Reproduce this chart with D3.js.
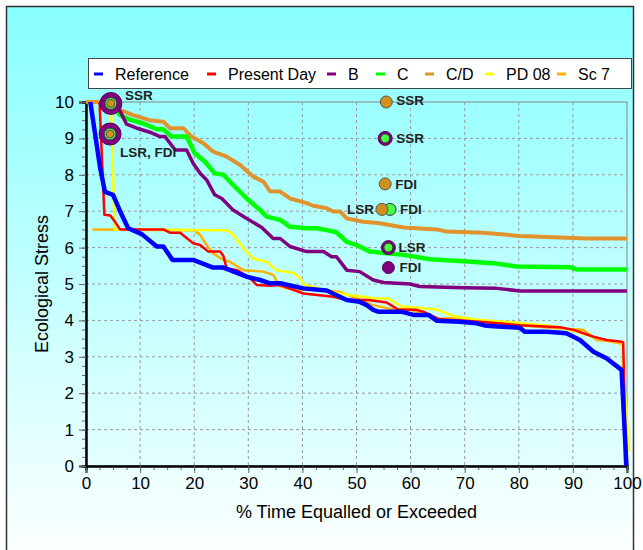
<!DOCTYPE html>
<html>
<head>
<meta charset="utf-8">
<script src="https://cdn.jsdelivr.net/npm/d3@7/dist/d3.min.js"></script>
<style>
  body { margin: 0; background: #fff; }
  svg text { font-family: "Liberation Sans", Arial, sans-serif; }
</style>
</head>
<body>
<svg id="chart" width="643" height="550"></svg>
<script>
// series names, in legend order
var seriesNames = ["Reference", "Present Day", "B", "C", "C/D", "PD 08", "Sc 7"];

// duration curves: [% time equalled or exceeded, ecological stress]
var reference = [[0.8,10],[2.6,8.2],[3.5,7.53],[5,7.45],[6.3,7.0],[7.8,6.53],[10.3,6.37],[13.1,6.03],[14.3,6.03],[16,5.66],[19.8,5.66],[23.5,5.45],[25.4,5.45],[29.7,5.2],[32.2,5.11],[34,5.02],[35.9,5.02],[40.2,4.88],[44.5,4.82],[48.2,4.56],[50.6,4.51],[51.9,4.42],[53.1,4.29],[54,4.24],[58.3,4.24],[60.5,4.15],[63.3,4.15],[64.8,3.99],[69.1,3.96],[72.2,3.92],[74,3.85],[80.2,3.8],[81.1,3.69],[85.2,3.69],[88.8,3.65],[91.3,3.46],[93.8,3.14],[96.2,2.96],[99,2.64],[99.9,0]];
var presentDay = [[2.5,10],[3.4,6.9],[4.5,6.88],[5.4,6.7],[6.3,6.5],[14.3,6.5],[15.5,6.41],[17.4,6.41],[19.8,6.12],[21.1,6.07],[22.6,5.89],[24.8,5.89],[25.4,5.77],[26,5.43],[27.9,5.38],[30.3,5.16],[31.6,4.97],[34,4.95],[35.9,4.97],[40.2,4.74],[45.7,4.65],[48.2,4.56],[52.2,4.56],[55.6,4.49],[57.7,4.3],[61.1,4.29],[62.3,4.24],[65.4,4.03],[72.8,3.96],[80.2,3.87],[87.6,3.81],[90.1,3.74],[93.8,3.55],[96.2,3.46],[98.7,3.42],[99.3,3.4],[99.8,0]];
var scenB = [[4.6,10],[6.3,9.75],[7.5,9.39],[9.4,9.28],[11.8,9.17],[13.7,9.05],[14.6,9.05],[16.5,8.68],[18.6,8.68],[19.8,8.32],[21.1,8.04],[22.3,7.86],[23.8,7.45],[25.1,7.35],[27.2,7.03],[29.7,6.8],[32.5,6.55],[34.6,6.25],[35.9,6.25],[37.7,6.03],[40.8,5.89],[43.9,5.89],[45.4,5.75],[46.3,5.75],[48.2,5.38],[50.6,5.34],[53.1,5.11],[55,5.04],[59.9,5.0],[61.7,4.93],[69.7,4.9],[75.9,4.88],[80.2,4.81],[100,4.81]];
var scenC = [[4.6,10],[6.3,9.64],[7.8,9.53],[10.6,9.41],[13.1,9.25],[14.3,9.25],[15.8,9.05],[18.6,9.05],[20.1,8.59],[22,8.36],[23.8,8.04],[25.4,8.0],[27.2,7.72],[29.7,7.35],[32.2,7.03],[33.4,6.85],[35.9,6.76],[37.7,6.57],[40.8,6.53],[42.6,6.53],[44.5,6.48],[46.3,6.42],[48.2,6.16],[50,6.07],[52.5,5.89],[58.7,5.8],[63.6,5.68],[69.1,5.63],[75.3,5.57],[79.6,5.48],[89.5,5.46],[90.7,5.4],[100,5.4]];
var scenCD = [[0,10],[4.6,10],[6.3,9.78],[8.7,9.64],[11.8,9.5],[14.3,9.46],[15.5,9.28],[18,9.28],[19.5,9.05],[21.7,8.87],[23.5,8.64],[26,8.5],[28.5,8.27],[30.9,7.95],[32.8,7.81],[34,7.55],[35.9,7.54],[37.7,7.35],[40.8,7.22],[42,7.15],[44.5,7.08],[45.7,6.99],[47,6.99],[48.2,6.8],[51.3,6.71],[54.3,6.67],[58.7,6.55],[64.8,6.5],[66.7,6.44],[73.4,6.41],[80.2,6.32],[92.5,6.25],[100,6.25]];
var pd08 = [[0,10],[4.6,10],[5.3,6.5],[26,6.48],[27.2,6.35],[29.1,5.98],[30.9,5.7],[33.4,5.61],[35.2,5.38],[38.3,5.31],[39.6,5.16],[40.3,4.98],[46.9,4.74],[53.1,4.61],[55.9,4.6],[58.3,4.38],[63,4.33],[64.8,4.3],[67.9,4.12],[71.6,4.03],[80.8,3.92],[87,3.83],[90.7,3.69],[94.4,3.51],[98.1,3.42],[99,3.4],[100.4,0.4]];
var sc7 = [[1.2,6.5],[19.8,6.48],[21.1,6.35],[22.3,6.07],[23.5,5.84],[25.4,5.66],[26.6,5.61],[29.1,5.38],[32.8,5.34],[34.6,5.25],[35.9,4.93],[38.3,4.85],[42,4.84],[46.9,4.79],[53.1,4.42],[56.8,4.3],[59.3,4.33],[64.8,4.03],[67.3,4.06],[80.2,3.87],[87.6,3.78],[91.9,3.74],[94.4,3.46],[96.2,3.44],[98.7,3.37],[99.2,3.3],[99.6,0]];

// marker points per scenario: [x, y]
var markersB = [[4.6,9.96],[4.45,9.12],[55.3,9.0],[55.9,6.0],[55.9,5.45]];
var markersC = [[4.6,9.96],[4.45,9.12],[55.3,9.0],[56.2,7.05],[55.9,6.0]];
var markersCD = [[4.6,9.96],[4.45,9.12],[55.5,10],[55.3,7.75],[54.7,7.05]];

// marker labels: [x, y, text]
var markerLabels = [[4.6,9.96,"SSR"],[4.45,9.12,"LSR, FDI"],[55.5,10,"SSR"],[55.3,9.0,"SSR"],[55.3,7.75,"FDI"],[54.7,7.05,"LSR"],[56.2,7.05,"FDI"],[55.9,6.0,"LSR"],[55.9,5.45,"FDI"]];

var xTicks = [0,10,20,30,40,50,60,70,80,90,100];
var yTicks = [0,1,2,3,4,5,6,7,8,9,10];

var colors = {
  "Reference": "#0000ff", "Present Day": "#ff0000", "B": "#800080", "C": "#00ff00",
  "C/D": "#e0922f", "PD 08": "#ffff00", "Sc 7": "#ffb000"
};
var widths = {
  "Reference": 4.5, "Present Day": 2.5, "B": 3.5, "C": 4.5, "C/D": 4, "PD 08": 2.5, "Sc 7": 2.5
};
var curves = {
  "Reference": reference, "Present Day": presentDay, "B": scenB, "C": scenC,
  "C/D": scenCD, "PD 08": pd08, "Sc 7": sc7
};

var svg = d3.select("#chart");
var defs = svg.append("defs");

var bgGrad = defs.append("linearGradient").attr("id", "bg").attr("x1", 0).attr("y1", 0).attr("x2", 0).attr("y2", 1);
bgGrad.append("stop").attr("offset", "0%").attr("stop-color", "#88ffff");
bgGrad.append("stop").attr("offset", "100%").attr("stop-color", "#ffffff");

var plotGrad = defs.append("linearGradient").attr("id", "plotbg").attr("x1", 0).attr("y1", 0).attr("x2", 0).attr("y2", 1);
plotGrad.append("stop").attr("offset", "0%").attr("stop-color", "#9cffff");
plotGrad.append("stop").attr("offset", "100%").attr("stop-color", "#e4ffff");

// outer frame
svg.append("rect").attr("x", 6.5).attr("y", 6.5).attr("width", 627).attr("height", 560)
  .attr("fill", "url(#bg)").attr("stroke", "#333").attr("stroke-width", 1.5);

var plotLeft = 86, plotRight = 627, plotTop = 102, plotBottom = 466;
var x = d3.scaleLinear().domain([0, 100]).range([plotLeft, plotRight]);
var y = d3.scaleLinear().domain([0, 10]).range([plotBottom, plotTop]);

svg.append("rect").attr("x", plotLeft).attr("y", plotTop)
  .attr("width", plotRight - plotLeft).attr("height", plotBottom - plotTop)
  .attr("fill", "url(#plotbg)").attr("stroke", "#888").attr("stroke-width", 1);

// grid
var grid = svg.append("g");
grid.selectAll(".gx").data(xTicks.slice(1, -1)).enter().append("line")
  .attr("x1", function (d) { return x(d); }).attr("x2", function (d) { return x(d); })
  .attr("y1", plotTop).attr("y2", plotBottom)
  .style("stroke", "#999").style("stroke-width", 1).style("stroke-dasharray", "3,3");
grid.selectAll(".gy").data(yTicks.slice(1, -1)).enter().append("line")
  .attr("x1", plotLeft).attr("x2", plotRight)
  .attr("y1", function (d) { return y(d); }).attr("y2", function (d) { return y(d); })
  .style("stroke", "#999").style("stroke-width", 1).style("stroke-dasharray", "3,3");

// axes
var xAxisMinor = d3.axisBottom(x).tickValues(d3.range(0, 100.1, 2.5)).tickSize(4).tickFormat("");
var xAxis = d3.axisBottom(x).tickValues(xTicks).tickSize(7).tickPadding(4);
var yAxisMinor = d3.axisLeft(y).tickValues(d3.range(0, 10.01, 0.25)).tickSize(4).tickFormat("");
var yAxis = d3.axisLeft(y).tickValues(yTicks).tickSize(7).tickPadding(5);

var gxm = svg.append("g").attr("transform", "translate(0," + plotBottom + ")").call(xAxisMinor);
var gx = svg.append("g").attr("transform", "translate(0," + plotBottom + ")").call(xAxis);
var gym = svg.append("g").attr("transform", "translate(" + plotLeft + ",0)").call(yAxisMinor);
var gy = svg.append("g").attr("transform", "translate(" + plotLeft + ",0)").call(yAxis);

[gxm, gx, gym, gy].forEach(function (g) {
  g.select(".domain").style("stroke", "#000").style("stroke-width", 2);
  g.selectAll(".tick line").style("stroke", "#666");
  g.selectAll("text").style("font-size", "17px").style("fill", "#000")
    .style("font-family", "'Liberation Sans', Arial, sans-serif");
});

svg.append("text").attr("x", x(50)).attr("y", 518).attr("text-anchor", "middle")
  .style("font-size", "18px").text("% Time Equalled or Exceeded");
svg.append("text").attr("transform", "translate(48," + y(5) + ") rotate(-90)")
  .attr("text-anchor", "middle").style("font-size", "18px").text("Ecological Stress");

// curves, drawn last series first so Reference is on top
var line = d3.line().x(function (d) { return x(d[0]); }).y(function (d) { return y(d[1]); });
seriesNames.slice().reverse().forEach(function (name) {
  svg.append("path").datum(curves[name]).attr("d", line)
    .style("fill", "none").style("stroke", colors[name])
    .style("stroke-width", widths[name]).style("stroke-linejoin", "round");
});

// markers, radius by position in each list
var rB = [11, 11, 7, 7, 6], rC = [6, 6, 4.5, 6, 4.5], rCD = [4, 4, 6, 6, 6];
function drawMarkers(pts, radii, fill, stroke) {
  svg.append("g").selectAll("circle").data(pts).enter().append("circle")
    .attr("cx", function (d) { return x(d[0]); }).attr("cy", function (d) { return y(d[1]); })
    .attr("r", function (d, i) { return radii[i]; })
    .style("fill", fill).style("stroke", stroke).style("stroke-width", 1);
}
drawMarkers(markersB, rB, "#800080", "#5a005a");
drawMarkers(markersC, rC, "#44ff44", "#333");
drawMarkers(markersCD, rCD, "#d18f1c", "#555");

// marker labels
var labelOffsets = [[14, -8], [10, 18], [10, -2], [11, 0], [10, 0], [-8, 0], [10, 0], [10, 0], [11, 0]];
svg.append("g").selectAll("text").data(markerLabels).enter().append("text")
  .attr("x", function (d, i) { return x(d[0]) + labelOffsets[i][0]; })
  .attr("y", function (d, i) { return y(d[1]) + labelOffsets[i][1]; })
  .attr("dy", "0.35em")
  .attr("text-anchor", function (d, i) { return labelOffsets[i][0] < 0 ? "end" : "start"; })
  .style("font-size", "13.5px").style("font-weight", "bold").style("fill", "#222")
  .text(function (d) { return d[2]; });

// legend
var legend = svg.append("g");
legend.append("rect").attr("x", 88.5).attr("y", 58.5).attr("width", 543).attr("height", 30)
  .style("fill", "#fff").style("stroke", "#444").style("stroke-width", 1);
var legendX = [94, 207, 327, 376, 425, 485, 557];
seriesNames.forEach(function (name, i) {
  legend.append("line").attr("x1", legendX[i]).attr("x2", legendX[i] + 9)
    .attr("y1", 74).attr("y2", 74)
    .style("stroke", colors[name]).style("stroke-width", 3);
  legend.append("text").attr("x", legendX[i] + 21).attr("y", 74).attr("dy", "0.35em")
    .style("font-size", "16px").text(name);
});
</script>
</body>
</html>
